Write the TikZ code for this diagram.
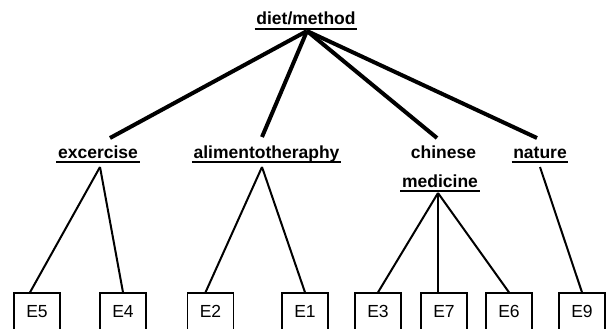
\documentclass[tikz,border=0pt]{standalone}
\usepackage{fontspec}
\setmainfont{Liberation Sans}
\begin{document}
\begin{tikzpicture}[x=1pt,y=-1pt,
  lbl/.style={font=\fontsize{17.5}{20}\selectfont\bfseries, inner sep=0pt, anchor=base},
  leaf/.style={draw, line width=1.3pt, minimum width=46pt, minimum height=37pt,
               inner sep=0pt, font=\fontsize{17.5}{20}\selectfont},
  trunk/.style={line width=4pt},
  twig/.style={line width=2pt},
  uline/.style={line width=1.6pt}]
\useasboundingbox (0,0) rectangle (610,329);

% category labels
\node[lbl] (root) at (306,25)    {diet/method};
\node[lbl] (ex)   at (98,158)    {excercise};
\node[lbl] (al)   at (266.5,158) {alimentotheraphy};
\node[lbl] (ch)   at (443.5,158) {chinese};
\node[lbl] (me)   at (440,187)   {medicine};
\node[lbl] (na)   at (540,158)   {nature};

% underlines of the labels
\foreach \n in {root,ex,al,me,na}
  \draw[uline] ([shift={(-1.5pt,-3.8pt)}]\n.base west) -- ([shift={(1.5pt,-3.8pt)}]\n.base east);

% attachment points
\coordinate (top) at (307,31);
\coordinate (exT) at (110,138);
\coordinate (alT) at (262,137);
\coordinate (chT) at (437,138);
\coordinate (naT) at (537,138);
\coordinate (exB) at (100,167);
\coordinate (alB) at (262,167);
\coordinate (meB) at (438,193);
\coordinate (naB) at (540,167);

% leaf boxes
\node[leaf] (e5) at (37,311.5)    {E5};
\node[leaf] (e4) at (123,311.5)   {E4};
\node[leaf] (e2) at (210.5,311.5) {E2};
\node[leaf] (e1) at (305,311.5)   {E1};
\node[leaf] (e3) at (378,311.5)   {E3};
\node[leaf] (e7) at (444,311.5)   {E7};
\node[leaf] (e6) at (509,311.5)   {E6};
\node[leaf] (e9) at (582,311.5)   {E9};

% top level branches
\draw[trunk] (top) -- (exT);
\draw[trunk] (top) -- (alT);
\draw[trunk] (top) -- (chT);
\draw[trunk] (top) -- (naT);

% lower branches
\draw[twig] (exB) -- ([xshift=-7pt]e5.north);
\draw[twig] (exB) -- (e4.north);
\draw[twig] (alB) -- ([xshift=-5pt]e2.north);
\draw[twig] (alB) -- (e1.north);
\draw[twig] (meB) -- (e3.north);
\draw[twig] (meB) -- ([xshift=-6pt]e7.north);
\draw[twig] (meB) -- (e6.north);
\draw[twig] (naB) -- (e9.north);
\end{tikzpicture}
\end{document}
